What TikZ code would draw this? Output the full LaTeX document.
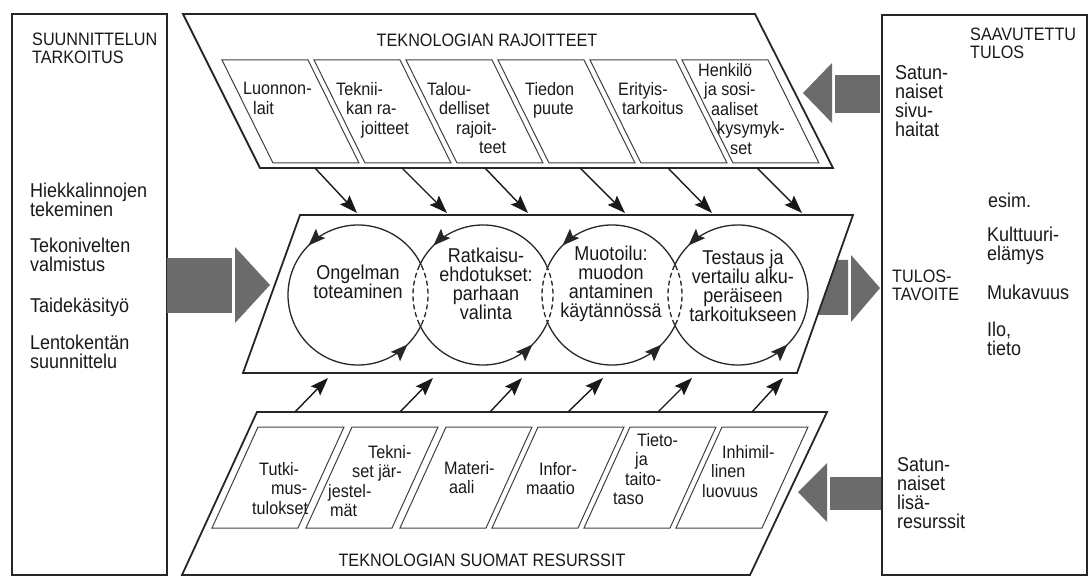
\documentclass[tikz,border=0pt]{standalone}
\usepackage{fontspec}
\setmainfont{Liberation Sans}[FakeStretch=0.9]
\usetikzlibrary{arrows.meta,decorations.markings}
\newcommand{\nudge}[1]{\hspace*{#1pt}}
\tikzset{
  panel/.style={draw=black!85, line width=1.8pt},
  cellbox/.style={draw=black!75, line width=1pt},
  pusharrow/.style={->, black!90, line width=1.4pt},
  ringside/.style={black!85, line width=1.3pt},
  ringarc/.style={ringside, postaction={decorate},
    decoration={markings, mark=at position 0.846 with {\arrow{Stealth[length=17pt, width=13pt, inset=3pt]}}}},
  ringlens/.style={ringside, dash pattern=on 5pt off 3pt},
  bigflow/.style={fill=black!58},
  celltext/.style={font=\fontsize{18}{19.5}\selectfont, align=left, anchor=north west, inner sep=0pt, text=black!90},
  looptext/.style={font=\fontsize{20}{19}\selectfont, align=center, inner sep=0pt, text=black!90},
  sidetext/.style={font=\fontsize{20}{19}\selectfont, align=left, anchor=north west, inner sep=0pt, text=black!90},
  headtext/.style={font=\fontsize{18}{18}\selectfont, align=left, inner sep=0pt, text=black!90},
}
\begin{document}
\begin{tikzpicture}[x=1pt, y=1pt, >={Stealth[length=18pt, width=13pt, inset=3pt]}]
\useasboundingbox (0,0) rectangle (1089,576);

% side columns
\draw[panel] (12,1) rectangle (167,562);
\draw[panel] (882,1) rectangle (1087,561);

\node[headtext, anchor=north west] (purpose) at (32,543) {SUUNNITTELUN\\TARKOITUS};
\node[sidetext] (sand) at (30,393) {Hiekkalinnojen\\tekeminen};
\node[sidetext] (joints) at (30,338) {Tekonivelten\\valmistus};
\node[sidetext] (craft) at (30,278) {Taidekäsityö};
\node[sidetext] (airport) at (30,241) {Lentokentän\\suunnittelu};

\node[headtext, anchor=north west] (result) at (970,548) {SAAVUTETTU\\TULOS};
\node[sidetext] (harm) at (895,511) {Satun-\\naiset\\sivu-\\haitat};
\node[sidetext] (esim) at (988,383) {esim.};
\node[sidetext] (culture) at (987,349) {Kulttuuri-\\elämys};
\node[headtext, anchor=north west] (goal) at (892,306) {TULOS-\\TAVOITE};
\node[sidetext] (comfort) at (987,291) {Mukavuus};
\node[sidetext] (joy) at (987,254) {Ilo,\\tieto};
\node[sidetext] (extra) at (897,119) {Satun-\\naiset\\lisä-\\resurssit};

% big arrows
\fill[bigflow] (167,263) rectangle (232,318);
\fill[bigflow] (235,329) -- (270,291) -- (235,253) -- cycle;
\fill[bigflow] (837,316) -- (848,316) -- (848,261) -- (818,261) -- cycle;
\fill[bigflow] (851,321) -- (880,288) -- (851,254) -- cycle;
\fill[bigflow] (835,463) rectangle (880,501);
\fill[bigflow] (832,513) -- (803,483) -- (832,453) -- cycle;
\fill[bigflow] (830,66) rectangle (881,99);
\fill[bigflow] (827,113) -- (798,84) -- (827,54) -- cycle;

% limits
\coordinate (rA) at (183,562); \coordinate (rB) at (755,562);
\coordinate (rC) at (833,408); \coordinate (rD) at (260,408);
\draw[panel] (rA) -- (rB) -- (rC) -- (rD) -- cycle;
\node[headtext] (limits) at (487,536) {TEKNOLOGIAN RAJOITTEET};

\draw[cellbox] (222,516) -- (308,516) -- (359,413) -- (273,413) -- cycle;
\draw[cellbox] (314,516) -- (400,516) -- (451,413) -- (365,413) -- cycle;
\draw[cellbox] (406,516) -- (492,516) -- (543,413) -- (457,413) -- cycle;
\draw[cellbox] (498,516) -- (584,516) -- (635,413) -- (549,413) -- cycle;
\draw[cellbox] (590,516) -- (676,516) -- (727,413) -- (641,413) -- cycle;
\draw[cellbox] (682,516) -- (768,516) -- (819,413) -- (733,413) -- cycle;

\node[celltext] (nature) at (243,494) {Luonnon-\\\nudge{10}lait};
\node[celltext] (techlim) at (336,494) {Teknii-\\\nudge{10}kan ra-\\\nudge{25}joitteet};
\node[celltext] (money) at (427,494) {Talou-\\\nudge{12}delliset\\\nudge{29}rajoit-\\\nudge{52}teet};
\node[celltext] (lack) at (525,494) {Tiedon\\\nudge{8}puute};
\node[celltext] (special) at (618,494) {Erityis-\\\nudge{4}tarkoitus};
\node[celltext] (social) at (698,513) {Henkilö\\\nudge{6}ja sosi-\\\nudge{13}aaliset\\\nudge{19}kysymyk-\\\nudge{32}set};

% process
\coordinate (mA) at (300,361); \coordinate (mB) at (853,361);
\coordinate (mC) at (797,203); \coordinate (mD) at (243,203);
\draw[panel] (mA) -- (mB) -- (mC) -- (mD) -- cycle;

\coordinate (o1) at (358,281); \coordinate (o2) at (483,281);
\coordinate (o3) at (612,281); \coordinate (o4) at (738,281);

\draw[ringarc] ([shift={(25:70)}]o1) arc[start angle=25, end angle=155, radius=70];
\draw[ringarc] ([shift={(205:70)}]o1) arc[start angle=205, end angle=335, radius=70];
\draw[ringside] ([shift={(155:70)}]o1) arc[start angle=155, end angle=205, radius=70];
\draw[ringlens] ([shift={(-25:70)}]o1) arc[start angle=-25, end angle=25, radius=70];

\draw[ringarc] ([shift={(25:70)}]o2) arc[start angle=25, end angle=155, radius=70];
\draw[ringarc] ([shift={(205:70)}]o2) arc[start angle=205, end angle=335, radius=70];
\draw[ringlens] ([shift={(155:70)}]o2) arc[start angle=155, end angle=205, radius=70];
\draw[ringlens] ([shift={(-25:70)}]o2) arc[start angle=-25, end angle=25, radius=70];

\draw[ringarc] ([shift={(25:70)}]o3) arc[start angle=25, end angle=155, radius=70];
\draw[ringarc] ([shift={(205:70)}]o3) arc[start angle=205, end angle=335, radius=70];
\draw[ringlens] ([shift={(155:70)}]o3) arc[start angle=155, end angle=205, radius=70];
\draw[ringlens] ([shift={(-25:70)}]o3) arc[start angle=-25, end angle=25, radius=70];

\draw[ringarc] ([shift={(25:70)}]o4) arc[start angle=25, end angle=155, radius=70];
\draw[ringarc] ([shift={(205:70)}]o4) arc[start angle=205, end angle=335, radius=70];
\draw[ringlens] ([shift={(155:70)}]o4) arc[start angle=155, end angle=205, radius=70];
\draw[ringside] ([shift={(-25:70)}]o4) arc[start angle=-25, end angle=25, radius=70];

\node[looptext] (problem) at (358,294) {Ongelman\\toteaminen};
\node[looptext] (choice) at (486,292) {Ratkaisu-\\ehdotukset:\\parhaan\\valinta};
\node[looptext] (shaping) at (611,292) {Muotoilu:\\muodon\\antaminen\\käytännössä};
\node[looptext] (testing) at (743,290) {Testaus ja\\vertailu alku-\\peräiseen\\tarkoitukseen};

% resources
\coordinate (sA) at (257,164); \coordinate (sB) at (827,164);
\coordinate (sC) at (750,1); \coordinate (sD) at (182,1);
\draw[panel] (sA) -- (sB) -- (sC) -- (sD) -- cycle;
\node[headtext] (resources) at (482,16) {TEKNOLOGIAN SUOMAT RESURSSIT};

\draw[cellbox] (258,149) -- (344,149) -- (298,48) -- (212,48) -- cycle;
\draw[cellbox] (352,149) -- (438,149) -- (392,48) -- (306,48) -- cycle;
\draw[cellbox] (446,149) -- (532,149) -- (486,48) -- (400,48) -- cycle;
\draw[cellbox] (538,149) -- (624,149) -- (578,48) -- (492,48) -- cycle;
\draw[cellbox] (630,149) -- (716,149) -- (670,48) -- (584,48) -- cycle;
\draw[cellbox] (722,149) -- (808,149) -- (762,48) -- (676,48) -- cycle;

\node[celltext] (research) at (252,114) {\nudge{7}Tutki-\\\nudge{19}mus-\\tulokset};
\node[celltext] (systems) at (328,131) {\nudge{40}Tekni-\\\nudge{24}set jär-\\jestel-\\\nudge{2}mät};
\node[celltext] (material) at (444,115) {Materi-\\\nudge{5}aali};
\node[celltext] (info) at (526,114) {\nudge{13}Infor-\\maatio};
\node[celltext] (skill) at (613,143) {\nudge{24}Tieto-\\\nudge{22}ja\\\nudge{12}taito-\\taso};
\node[celltext] (creativity) at (702,131) {\nudge{20}Inhimil-\\\nudge{9}linen\\luovuus};

% connectors
\coordinate (rs1) at (315,408); \coordinate (rs2) at (402,408); \coordinate (rs3) at (485,408);
\coordinate (rs4) at (580,408); \coordinate (rs5) at (668,408); \coordinate (rs6) at (757,408);
\coordinate (mt1) at (357,363); \coordinate (mt2) at (447,363); \coordinate (mt3) at (528,363);
\coordinate (mt4) at (625,363); \coordinate (mt5) at (712,363); \coordinate (mt6) at (802,363);
\coordinate (ss1) at (295,164); \coordinate (ss2) at (400,164); \coordinate (ss3) at (490,164);
\coordinate (ss4) at (568,164); \coordinate (ss5) at (658,164); \coordinate (ss6) at (752,164);
\coordinate (mb1) at (328,198); \coordinate (mb2) at (433,198); \coordinate (mb3) at (522,198);
\coordinate (mb4) at (603,198); \coordinate (mb5) at (692,198); \coordinate (mb6) at (783,198);

\draw[pusharrow] (rs1) to (mt1); \draw[pusharrow] (rs2) to (mt2); \draw[pusharrow] (rs3) to (mt3);
\draw[pusharrow] (rs4) to (mt4); \draw[pusharrow] (rs5) to (mt5); \draw[pusharrow] (rs6) to (mt6);
\draw[pusharrow] (ss1) to (mb1); \draw[pusharrow] (ss2) to (mb2); \draw[pusharrow] (ss3) to (mb3);
\draw[pusharrow] (ss4) to (mb4); \draw[pusharrow] (ss5) to (mb5); \draw[pusharrow] (ss6) to (mb6);
\end{tikzpicture}
\end{document}
